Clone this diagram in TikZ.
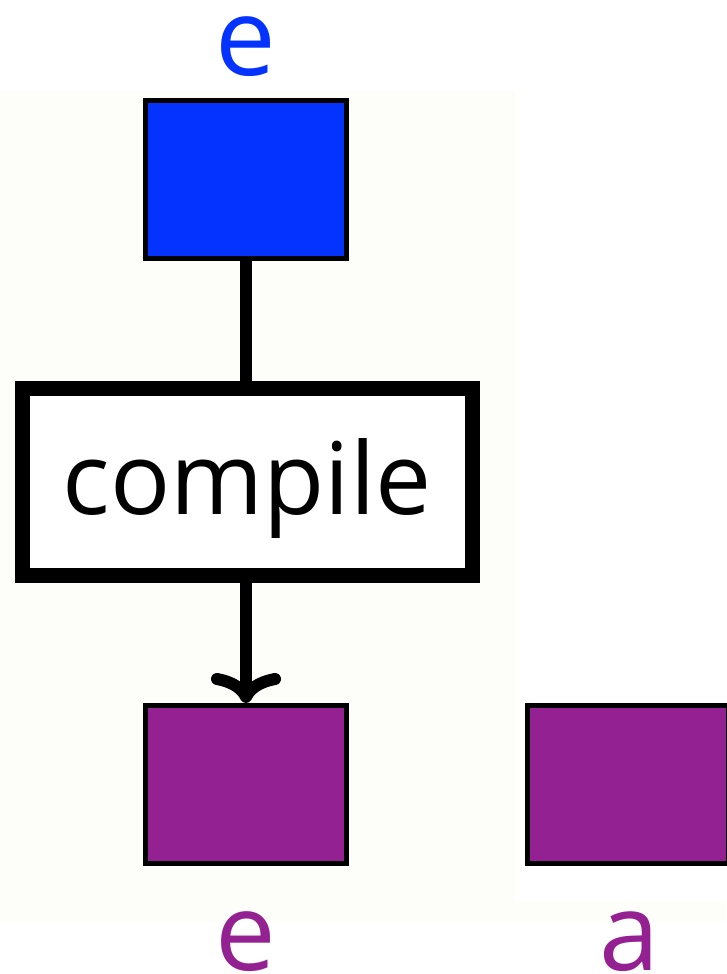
\documentclass[tikz,border=0pt]{standalone}
\usepackage{fontspec}
\setmainfont{Open Sans}
\usetikzlibrary{arrows.meta}
\definecolor{cream}{RGB}{253,253,249}
\definecolor{eblue}{RGB}{4,51,255}
\definecolor{epurple}{RGB}{148,33,146}
\tikzset{
  valbox/.style={draw=black, line width=5pt, inner sep=0pt, minimum width=201pt, minimum height=158pt},
  opbox/.style={draw=black, fill=white, line width=15pt, inner sep=0pt, minimum width=450pt, minimum height=187pt},
  conn/.style={line width=12pt},
  lbl/.style={anchor=base, inner sep=0pt, font=\fontsize{108}{110}\selectfont}
}
\begin{document}
\begin{tikzpicture}[x=1pt,y=-1pt]
\useasboundingbox (0,0) rectangle (726,974);
\fill[cream] (0,91) rectangle (515,921);
\fill[cream] (515,902) rectangle (726,921);
\node[valbox, fill=eblue] (in) at (246,179) {};
\node[opbox] (op) at (247.5,482) {};
\node[anchor=base, inner sep=0pt, font=\fontsize{100}{110}\selectfont] (optext) at (247,514) {compile};
\node[valbox, fill=epurple] (out) at (246,784.5) {};
\node[valbox, fill=epurple] (other) at (628,784.5) {};
\node[lbl, text=eblue] (lin) at (246,75) {e};
\node[lbl, text=epurple] (lout) at (246,970) {e};
\node[lbl, text=epurple] (lother) at (630,970) {a};
\draw[conn] (in.south) -- (in.south |- op.north);
\draw[conn, -{To[round, length=30pt, width=70pt]}] (out.north |- op.south) -- (out.north);
\end{tikzpicture}
\end{document}
